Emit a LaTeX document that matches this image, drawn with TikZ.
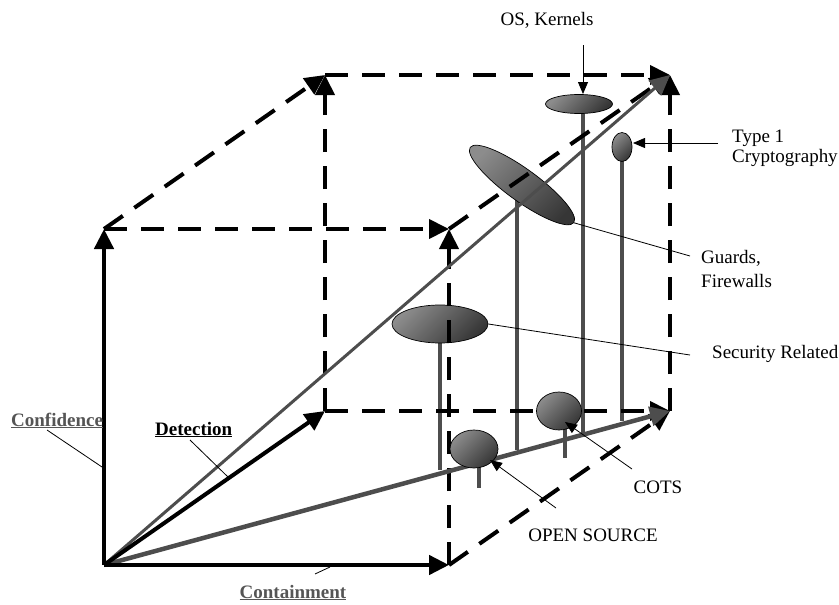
\documentclass[tikz,border=0pt]{standalone}
\usepackage{fontspec}
\setmainfont{Liberation Serif}
\usetikzlibrary{arrows.meta,shapes.geometric}
\definecolor{lg}{HTML}{8C8C8C}
\definecolor{dg}{HTML}{363636}
\definecolor{axg}{HTML}{4D4D4D}
\definecolor{labg}{HTML}{555555}
\tikzset{
  big/.tip={Triangle[length=20pt,width=19pt]},
  small/.tip={Triangle[length=12pt,width=10pt]},
  cubeedge/.style={line width=4pt,dash pattern=on 23pt off 14pt,-big},
  solidaxis/.style={line width=4.5pt,-big},
  grayaxis/.style={draw=axg,-{Triangle[length=20pt,width=19pt,fill=axg]}},
  stem/.style={draw=axg,line width=4pt},
  blob/.style={ellipse,draw=black,line width=0.7pt,inner sep=0pt,
    top color=lg,bottom color=dg,shading angle=45},
  leader/.style={draw=black,line width=0.8pt},
  leadarrow/.style={draw=black,line width=0.8pt,-small},
  lbl/.style={inner sep=0pt,font=\fontsize{19}{20}\selectfont},
}
\begin{document}
\begin{tikzpicture}[x=1pt,y=-1pt]
\useasboundingbox (0,0) rectangle (839,605);
% cube corners
\coordinate (O) at (104,565);
\coordinate (FR) at (449,565);
\coordinate (FTL) at (104,229);
\coordinate (FTR) at (449,229);
\coordinate (BBL) at (325,411);
\coordinate (BBR) at (670,411);
\coordinate (BTL) at (325,75);
\coordinate (BTR) at (670,75);
% ellipse positions
\coordinate (srC) at (440,324);
\coordinate (gfC) at (522,185);
\coordinate (oskC) at (579,104);
\coordinate (t1C) at (622,147);
\coordinate (osC) at (474,449);
\coordinate (cotsC) at (559,411);
% stems
\draw[stem] (srC) -- (440,470);
\draw[stem] (517,200) -- (517,450);
\draw[stem] (583,104) -- (583,437);
\draw[stem] (t1C) -- (622,421);
\draw[stem] (479,455) -- (479,488);
\draw[stem] (565,420) -- (565,458);
% back ellipses
\node[blob,minimum width=96pt,minimum height=38pt] (sr) at (srC) {};
\node[blob,minimum width=128pt,minimum height=32pt,rotate=-36] (gf) at (gfC) {};
% cube dashed edges
\draw[cubeedge] (FTL) -- (FTR);
\draw[cubeedge] (FR) -- (FTR);
\draw[cubeedge] (FTL) -- (BTL);
\draw[cubeedge] (BBL) -- (BTL);
\draw[cubeedge] (BTL) -- (BTR);
\draw[cubeedge] (BBR) -- (BTR);
\draw[cubeedge] (FTR) -- (BTR);
\draw[cubeedge] (BBL) -- (BBR);
\draw[cubeedge] (FR) -- (BBR);
% gray axes
\draw[grayaxis,line width=3pt] (O) -- (BTR);
\draw[grayaxis,line width=4.5pt] (O) -- (BBR);
% solid axes
\draw[solidaxis] (O) -- (FTL);
\draw[solidaxis] (O) -- (FR);
\draw[solidaxis,line width=4pt] (O) -- (BBL);
% front ellipses
\node[blob,minimum width=48pt,minimum height=38pt] (os) at (osC) {};
\node[blob,minimum width=45pt,minimum height=38pt] (cots) at (cotsC) {};
\node[blob,minimum width=67pt,minimum height=19pt] (osk) at (oskC) {};
\node[blob,minimum width=20pt,minimum height=29pt] (t1) at (t1C) {};
% axis labels
\node[lbl,anchor=base west,text=labg] (conf) at (11,426) {\underline{\textbf{Confidence}}};
\node[lbl,anchor=base west] (det) at (155,435) {\underline{\textbf{Detection}}};
\node[lbl,anchor=base,text=labg] (cont) at (293,598) {\underline{\textbf{Containment}}};
\coordinate (confA) at (47,430);
\coordinate (confB) at (102,467);
\coordinate (detA) at (190,440);
\coordinate (detB) at (228,477);
\coordinate (contA) at (315,574);
\coordinate (contB) at (330,567);
\draw[leader] (confA) -- (confB);
\draw[leader] (detA) -- (detB);
\draw[leader] (contA) -- (contB);
% category labels
\node[lbl,anchor=base] (oskL) at (547,25) {OS, Kernels};
\node[lbl,anchor=base west,align=left] (t1L) at (732,162) {Type 1\\Cryptography};
\node[lbl,anchor=base west,align=left,font=\fontsize{19}{24}\selectfont] (gfL) at (701,287) {Guards,\\Firewalls};
\node[lbl,anchor=base west] (srL) at (712,358) {Security Related};
\node[lbl,anchor=base] (cotsL) at (658,493) {COTS};
\node[lbl,anchor=base] (osL) at (593,541) {OPEN SOURCE};
\coordinate (oskA) at (583,45);
\coordinate (oskB) at (583,94);
\coordinate (t1A) at (718,143);
\coordinate (t1B) at (633,143);
\coordinate (gfB) at (690,256);
\coordinate (srB) at (690,355);
\coordinate (cotsA) at (632,469);
\coordinate (cotsB) at (565,422);
\coordinate (osA) at (556,508);
\coordinate (osB) at (490,460);
\draw[leadarrow] (oskA) -- (oskB);
\draw[leadarrow] (t1A) -- (t1B);
\draw[leader] (gf.east) -- (gfB);
\draw[leader] (sr.east) -- (srB);
\draw[leadarrow] (cotsA) -- (cotsB);
\draw[leadarrow] (osA) -- (osB);
\end{tikzpicture}
\end{document}
